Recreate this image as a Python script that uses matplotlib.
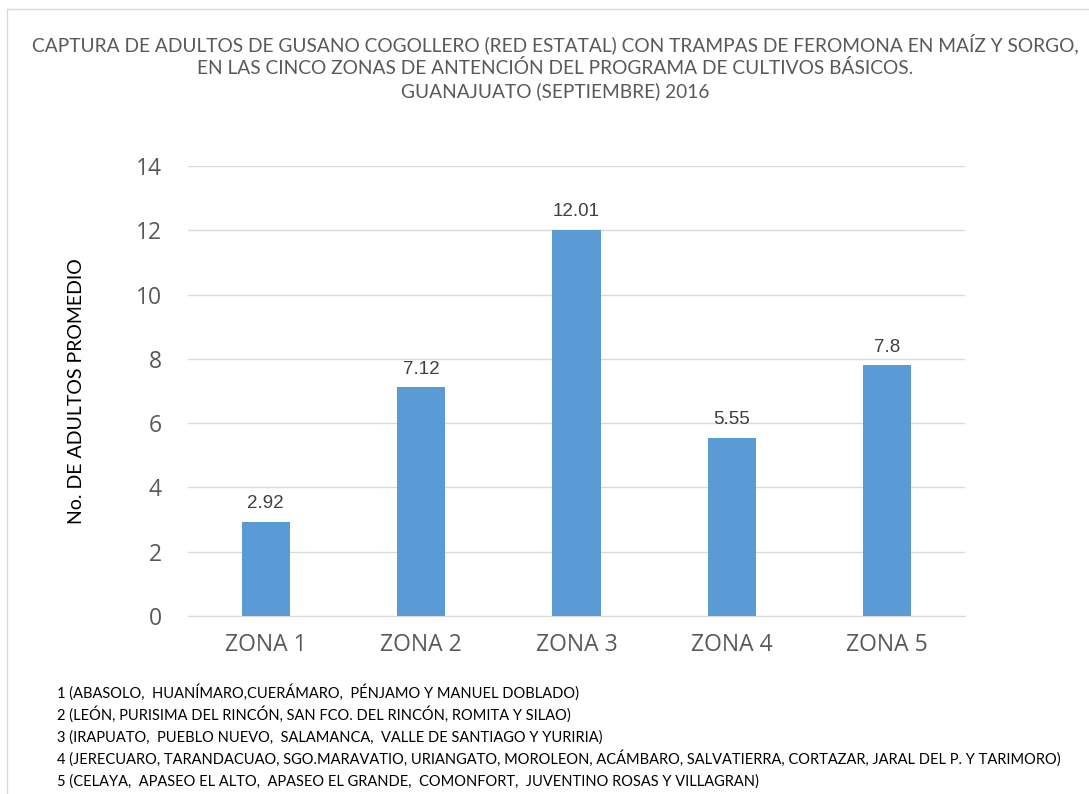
import matplotlib.pyplot as plt
from matplotlib.patches import Rectangle

zonas = ['ZONA 1', 'ZONA 2', 'ZONA 3', 'ZONA 4', 'ZONA 5']
promedio = [2.92, 7.12, 12.01, 5.55, 7.8]
etiquetas = ['2.92', '7.12', '12.01', '5.55', '7.8']

titulo = ('CAPTURA DE ADULTOS DE GUSANO COGOLLERO (RED ESTATAL) CON TRAMPAS DE FEROMONA EN MAÍZ Y SORGO,\n'
          'EN LAS CINCO ZONAS DE ANTENCIÓN DEL PROGRAMA DE CULTIVOS BÁSICOS.\n'
          'GUANAJUATO (SEPTIEMBRE) 2016')

notas = [
    '1 (ABASOLO,  HUANÍMARO,CUERÁMARO,  PÉNJAMO Y MANUEL DOBLADO)',
    '2 (LEÓN, PURISIMA DEL RINCÓN, SAN FCO. DEL RINCÓN, ROMITA Y SILAO)',
    '3 (IRAPUATO,  PUEBLO NUEVO,  SALAMANCA,  VALLE DE SANTIAGO Y YURIRIA)',
    '4 (JERECUARO, TARANDACUAO, SGO.MARAVATIO, URIANGATO, MOROLEON, ACÁMBARO, SALVATIERRA, CORTAZAR, JARAL DEL P. Y TARIMORO)',
    '5 (CELAYA,  APASEO EL ALTO,  APASEO EL GRANDE,  COMONFORT,  JUVENTINO ROSAS Y VILLAGRAN)',
]

W, H = 1089, 794
fig = plt.figure(figsize=(W / 100, H / 100), dpi=100)

# marco del grafico
fig.patches.append(Rectangle((7 / W, -0.01), 1.05, 1 - 9 / H + 0.01, transform=fig.transFigure,
                             fill=False, edgecolor='#d9d9d9', linewidth=1))

ax = fig.add_axes([188 / W, 1 - 616 / H, (965 - 188) / W, (616 - 166) / H])
x = range(len(zonas))
ax.bar(x, promedio, width=0.31, color='#5b9bd5', zorder=3)
for i, v in enumerate(promedio):
    ax.text(i, v + 0.3, etiquetas[i], ha='center', va='bottom', fontsize=13.5,
            color='#404040', family='Liberation Sans')

ax.set_xlim(-0.5, 4.5)
ax.set_ylim(0, 14)
ax.set_yticks(range(0, 15, 2))
ax.set_xticks(list(x))
ax.set_xticklabels(zonas)
ax.grid(axis='y', color='#d9d9d9', linewidth=1, zorder=0)
for s in ['top', 'right', 'left']:
    ax.spines[s].set_visible(False)
ax.spines['bottom'].set_color('#d9d9d9')
ax.tick_params(axis='both', length=0, labelsize=16.5, labelcolor='#595959')
ax.tick_params(axis='x', pad=12)
ax.tick_params(axis='y', pad=19)
for lab in ax.get_xticklabels() + ax.get_yticklabels():
    lab.set_family('Open Sans')
ax.set_ylabel('No. DE ADULTOS PROMEDIO', fontsize=14, color='#000000', family='Lato', labelpad=36)

fig.text(0.51, 1 - 33 / H, titulo, ha='center', va='top', fontsize=13.8, color='#595959',
         family='Lato', linespacing=1.36)

for k, nota in enumerate(notas):
    fig.text(57 / W, 1 - (698 + 22 * k) / H, nota, ha='left', va='baseline', fontsize=10.5,
             color='#000000', family='Lato')

fig.savefig('out.png', dpi=100)
